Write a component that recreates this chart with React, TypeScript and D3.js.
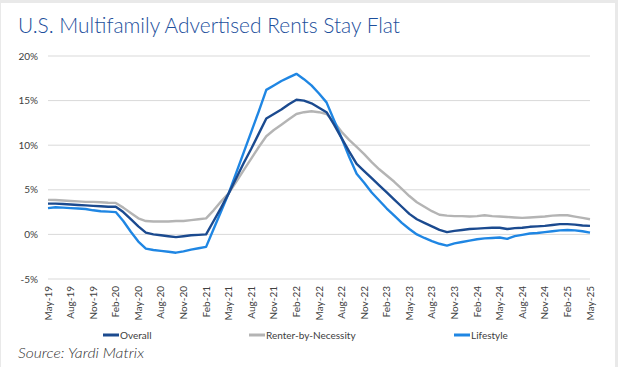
import * as d3 from "d3"
import { useEffect, useRef } from "react"

// monthly, May-19 .. May-25
const months = [
  "May-19","Jun-19","Jul-19","Aug-19","Sep-19","Oct-19","Nov-19","Dec-19","Jan-20","Feb-20","Mar-20","Apr-20",
  "May-20","Jun-20","Jul-20","Aug-20","Sep-20","Oct-20","Nov-20","Dec-20","Jan-21","Feb-21","Mar-21","Apr-21",
  "May-21","Jun-21","Jul-21","Aug-21","Sep-21","Oct-21","Nov-21","Dec-21","Jan-22","Feb-22","Mar-22","Apr-22",
  "May-22","Jun-22","Jul-22","Aug-22","Sep-22","Oct-22","Nov-22","Dec-22","Jan-23","Feb-23","Mar-23","Apr-23",
  "May-23","Jun-23","Jul-23","Aug-23","Sep-23","Oct-23","Nov-23","Dec-23","Jan-24","Feb-24","Mar-24","Apr-24",
  "May-24","Jun-24","Jul-24","Aug-24","Sep-24","Oct-24","Nov-24","Dec-24","Jan-25","Feb-25","Mar-25","Apr-25",
  "May-25"
]

const overall = [
  3.45, 3.45, 3.4, 3.35, 3.3, 3.25, 3.2, 3.15, 3.1, 3.1, 2.5, 1.7,
  0.9, 0.2, 0.0, -0.1, -0.2, -0.3, -0.2, -0.1, -0.05, 0.0, 1.5, 3.0,
  4.6, 6.3, 8.0, 9.6, 11.3, 13.0, 13.5, 14.0, 14.6, 15.1, 15.0, 14.7,
  14.2, 13.7, 12.3, 10.8, 9.3, 7.9, 7.1, 6.3, 5.5, 4.7, 3.9, 3.1,
  2.3, 1.7, 1.3, 0.9, 0.5, 0.25, 0.4, 0.5, 0.6, 0.65, 0.7, 0.75,
  0.75, 0.6, 0.7, 0.75, 0.85, 0.9, 0.95, 1.05, 1.15, 1.15, 1.1, 1.0,
  0.95
]

const renterByNecessity = [
  3.87, 3.85, 3.8, 3.75, 3.7, 3.65, 3.65, 3.6, 3.55, 3.53, 3.0, 2.4,
  1.8, 1.5, 1.45, 1.45, 1.45, 1.5, 1.5, 1.6, 1.7, 1.8, 2.7, 3.7,
  4.6, 5.9, 7.2, 8.5, 9.8, 11.0, 11.7, 12.3, 12.9, 13.5, 13.7, 13.8,
  13.7, 13.5, 12.6, 11.5, 10.6, 9.8, 9.0, 8.1, 7.3, 6.6, 5.9, 5.1,
  4.3, 3.6, 3.1, 2.6, 2.2, 2.1, 2.05, 2.05, 2.0, 2.05, 2.15, 2.05,
  2.0, 1.95, 1.9, 1.85, 1.9, 1.95, 2.0, 2.1, 2.15, 2.15, 2.0, 1.85,
  1.7
]

const lifestyle = [
  2.95, 3.05, 3.0, 2.95, 2.9, 2.85, 2.7, 2.6, 2.55, 2.5, 1.5, 0.3,
  -0.8, -1.6, -1.75, -1.85, -1.95, -2.05, -1.9, -1.7, -1.55, -1.4, 0.6, 2.6,
  4.6, 6.9, 9.2, 11.5, 13.8, 16.2, 16.7, 17.2, 17.6, 18.0, 17.4, 16.7,
  15.8, 14.8, 12.8, 10.8, 8.7, 6.8, 5.8, 4.7, 3.8, 2.9, 2.1, 1.3,
  0.6, 0.0, -0.4, -0.75, -1.05, -1.25, -1.0, -0.85, -0.7, -0.55, -0.45, -0.4,
  -0.35, -0.5, -0.2, -0.05, 0.1, 0.15, 0.25, 0.35, 0.45, 0.5, 0.45, 0.35,
  0.2
]

const yTicks = [-5, 0, 5, 10, 15, 20]

const seriesNames = ["Overall", "Renter-by-Necessity", "Lifestyle"]
const seriesColors = ["#1b4a8f", "#b4b4b4", "#1f86e3"]

export default function App() {
  const ref = useRef<SVGSVGElement>(null)

  useEffect(() => {
    document.body.style.margin = "0"
    const svg = d3.select(ref.current)
    svg.selectAll("*").remove()

    const width = 618, height = 367
    const plot = { left: 48, right: 590, top: 56, bottom: 279 }

    // background + card
    svg.append("rect").attr("width", width).attr("height", height).attr("fill", "#e9e9e9")
    svg.append("rect").attr("x", 1).attr("y", 3).attr("width", 614).attr("height", 364).attr("fill", "#fff")

    svg.append("text")
      .attr("x", 18).attr("y", 33)
      .attr("font-family", "Lato, sans-serif")
      .attr("font-weight", 300)
      .attr("font-size", 21)
      .attr("fill", "#1d4f9c")
      .attr("textLength", 382)
      .attr("lengthAdjust", "spacingAndGlyphs")
      .text("U.S. Multifamily Advertised Rents Stay Flat")

    const x = d3.scalePoint<string>().domain(months).range([plot.left, plot.right])
    const y = d3.scaleLinear().domain([-5, 20]).range([plot.bottom, plot.top])

    // gridlines
    svg.append("g").selectAll("line").data(yTicks).enter().append("line")
      .attr("x1", plot.left).attr("x2", plot.right)
      .attr("y1", d => y(d)).attr("y2", d => y(d))
      .attr("stroke", "#d9d9d9").attr("stroke-width", 1)

    // y axis labels
    svg.append("g").selectAll("text").data(yTicks).enter().append("text")
      .attr("x", 38).attr("y", d => y(d) + 3.5)
      .attr("text-anchor", "end")
      .attr("font-family", "Lato, sans-serif")
      .attr("font-size", 10)
      .attr("fill", "#404040")
      .text(d => d + "%")

    // x axis labels, every 3rd month
    const xLabels = months.filter((_, i) => i % 3 === 0)
    svg.append("g").selectAll("text").data(xLabels).enter().append("text")
      .attr("transform", d => "translate(" + (x(d)! + 3.5) + ",286) rotate(-90)")
      .attr("text-anchor", "end")
      .attr("font-family", "Lato, sans-serif")
      .attr("font-size", 10)
      .attr("fill", "#404040")
      .text(d => d)

    const allSeries = [overall, renterByNecessity, lifestyle]
    const line = d3.line<number>()
      .x((_, i) => x(months[i])!)
      .y(d => y(d))

    // draw grey first, then lifestyle, then overall on top
    ;[1, 2, 0].forEach(k => {
      svg.append("path")
        .datum(allSeries[k])
        .attr("d", line)
        .attr("fill", "none")
        .attr("stroke", seriesColors[k])
        .attr("stroke-width", 2.4)
        .attr("stroke-linejoin", "round")
    })

    // legend
    const legendX = [103, 249, 454]
    seriesNames.forEach((name, k) => {
      svg.append("line")
        .attr("x1", legendX[k]).attr("x2", legendX[k] + 16)
        .attr("y1", 335).attr("y2", 335)
        .attr("stroke", seriesColors[k]).attr("stroke-width", 3)
      svg.append("text")
        .attr("x", legendX[k] + 17).attr("y", 339)
        .attr("font-family", "Lato, sans-serif")
        .attr("font-size", 10)
        .attr("fill", "#404040")
        .text(name)
    })

    svg.append("text")
      .attr("x", 18).attr("y", 358)
      .attr("font-family", "Lato, sans-serif")
      .attr("font-style", "italic")
      .attr("font-weight", 300)
      .attr("font-size", 14)
      .attr("fill", "#333")
      .attr("textLength", 126)
      .attr("lengthAdjust", "spacingAndGlyphs")
      .text("Source: Yardi Matrix")
  }, [])

  return (
    <svg ref={ref} width={618} height={367} style={{ position: "absolute", left: 0, top: 0, display: "block" }} />
  )
}
